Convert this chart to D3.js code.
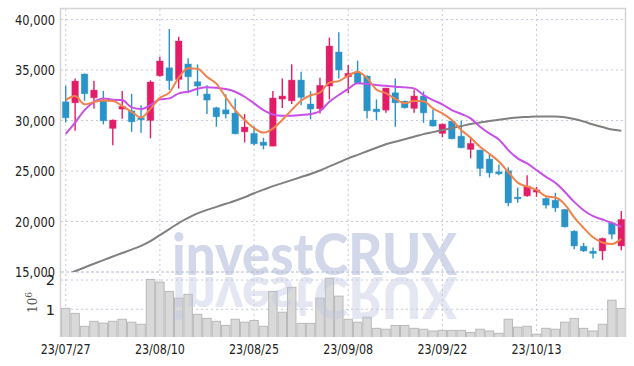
<!DOCTYPE html>
<html>
<head>
<meta charset="utf-8">
<script src="https://cdn.jsdelivr.net/npm/d3@7"></script>
<style>
body { margin: 0; background: #fff; }
text { font-family: "DejaVu Sans", "Liberation Sans", sans-serif; }
</style>
</head>
<body>
<div class="chartDIV"></div>
<script>
// daily candles, 23/07/27 - 23/10/26
var dates = ["23/07/27","23/07/28","23/07/31","23/08/01","23/08/02","23/08/03","23/08/04","23/08/07","23/08/08","23/08/09",
             "23/08/10","23/08/11","23/08/14","23/08/16","23/08/17","23/08/18","23/08/21","23/08/22","23/08/23","23/08/24",
             "23/08/25","23/08/28","23/08/29","23/08/30","23/08/31","23/09/01","23/09/04","23/09/05","23/09/06","23/09/07",
             "23/09/08","23/09/11","23/09/12","23/09/13","23/09/14","23/09/15","23/09/18","23/09/19","23/09/20","23/09/21",
             "23/09/22","23/09/25","23/09/26","23/09/27","23/10/04","23/10/05","23/10/06","23/10/10","23/10/11","23/10/12",
             "23/10/13","23/10/16","23/10/17","23/10/18","23/10/19","23/10/20","23/10/23","23/10/24","23/10/25","23/10/26"];

var open = [31850,31750,34600,32250,31920,29220,31130,30960,30270,30010,34430,35220,34070,35590,33840,32620,31260,31060,30730,28880,
            28720,27860,27460,32120,31950,34000,31630,31160,33410,36780,34330,34730,34400,31130,31030,32750,31920,31200,32420,30040,
            28720,29940,28450,27140,27070,26180,24920,25020,22410,22540,22910,22280,22110,21190,19040,17550,17060,17090,19860,17580];
var high = [33440,34170,34650,33940,32940,30100,32910,32650,31500,33980,36310,39060,38300,36160,35560,33480,31360,32590,32190,30640,
            29420,28290,32910,34170,35560,34830,32910,34230,38200,38730,35490,35920,34450,32090,33250,34170,31960,33080,32890,31100,
            29700,30000,29970,28330,27100,26670,25650,25360,23370,24590,23430,22400,22840,21250,19140,17880,17430,18400,19900,21050];
var low = [29810,28980,31950,31200,29620,27560,30170,28880,28780,28230,34330,33010,33180,32690,32450,30640,29380,30210,28650,27830,
           27560,27140,27440,31230,31630,31500,30110,30700,32090,34170,32700,33650,30210,30040,30760,29380,31200,30760,29770,29400,
           28330,28150,27250,26250,24490,24360,24590,21520,21850,22450,22440,21290,20950,19400,17260,16990,16340,16170,18250,17160];
var close = [30270,33900,32650,33010,29970,30040,31400,29870,30070,33810,35890,33940,37870,34330,33410,32020,30370,30640,28680,29350,
             27690,27530,32220,32420,34000,32290,31130,33480,37370,35000,34670,33680,30960,30860,33210,31750,31260,32420,30760,29450,
             29640,28190,27300,27730,25250,24820,24720,21850,22240,23500,23130,21620,21350,19470,17580,17090,16830,18320,18740,20200];
var volume = [1030000,860000,420000,590000,530000,590000,660000,560000,490000,2020000,1930000,1610000,1380000,1510000,830000,690000,590000,450000,660000,560000,
              620000,420000,1610000,900000,1750000,520000,520000,1380000,2060000,1450000,660000,560000,730000,350000,320000,450000,450000,350000,320000,260000,
              280000,280000,280000,210000,320000,260000,180000,660000,390000,420000,150000,350000,320000,560000,690000,350000,260000,490000,1310000,1030000];

// moving averages as drawn
var ma5 = [32020,32420,31600,31820,31980,31930,31450,30860,30300,31150,32240,32760,34250,35165,35120,34320,33650,32300,31030,30050,
           29250,28800,29200,30050,31050,31950,32500,32750,33750,33900,34450,34830,34200,33060,32710,32140,31700,31930,31910,31200,
           30700,30060,29060,28300,27400,26700,25940,24900,23850,23460,23130,22500,22375,21700,20400,19360,18440,17920,17770,18300];
var ma20 = [28680,29800,31030,31850,32190,32050,32020,31300,31130,31530,32090,32190,32690,32850,33140,33300,33240,33110,32850,32350,
            31700,31030,30600,30470,30470,30540,30640,30930,31850,32520,33130,33680,33610,33510,33440,33340,33280,33180,32520,32020,
            31600,31030,30640,30210,29380,28720,28130,27070,26250,25750,25090,24420,23830,22940,21940,21120,20530,20200,19860,19470];
var ma120 = [14700,15080,15450,15820,16180,16530,16880,17220,17580,18050,18650,19250,19850,20350,20800,21150,21450,21750,22050,22400,
             22800,23150,23500,23800,24100,24400,24700,25050,25450,25850,26250,26600,26950,27300,27650,27900,28150,28400,28650,28850,
             29050,29250,29450,29650,29800,29950,30080,30200,30300,30350,30400,30400,30400,30330,30150,29900,29600,29350,29100,28980];

var priceTicks = [15000, 20000, 25000, 30000, 35000, 40000],
    volTicks = [1000000, 2000000],
    dateTicks = ["23/07/27", "23/08/10", "23/08/25", "23/09/08", "23/09/22", "23/10/13"];

var width = 634,
    height = 366,
    left = 61,
    right = 626,
    plotTop = 9,
    split = 272,
    plotBottom = 337;

var svg = d3.select(".chartDIV").
    append("svg").
    attr("width", width).
    attr("height", height);

var x = d3.scaleBand().domain(dates).range([left, right]).padding(0),
    y = d3.scaleLinear().domain([15000, 40000]).range([272, 19.5]),
    yv = d3.scaleLinear().domain([0, 2000000]).range([338.6, 280]);

function cx(i) { return x(dates[i]) + x.bandwidth() / 2; }

var defs = svg.append("defs");
defs.append("clipPath").attr("id", "priceClip").
    append("rect").attr("x", left).attr("y", plotTop).attr("width", right - left).attr("height", split - plotTop);
defs.append("clipPath").attr("id", "volClip").
    append("rect").attr("x", left).attr("y", split).attr("width", right - left).attr("height", plotBottom - split);

// watermark
function watermark(sel) {
    sel.attr("x", 172).
        attr("y", 275).
        attr("textLength", 285).
        attr("lengthAdjust", "spacingAndGlyphs").
        style("font-family", "Lato, 'DejaVu Sans', sans-serif").
        style("font-size", "57px").
        style("font-weight", 900).
        text("investCRUX");
}
svg.append("text").call(watermark).style("fill", "#d2d7ea");

// gridlines
var grid = svg.append("g").attr("class", "grid");
grid.selectAll(".hgrid").
    data(priceTicks.slice(1)).
    enter().append("line").
    attr("x1", left).attr("x2", right).
    attr("y1", function(d) { return y(d); }).
    attr("y2", function(d) { return y(d); }).
    style("stroke", "#c6c9dc").
    style("stroke-dasharray", "2,3");
grid.selectAll(".vgrid").
    data(volTicks).
    enter().append("line").
    attr("x1", left).attr("x2", right).
    attr("y1", function(d) { return yv(d); }).
    attr("y2", function(d) { return yv(d); }).
    style("stroke", "#c6c9dc").
    style("stroke-dasharray", "2,3");
grid.selectAll(".xgrid").
    data(dateTicks).
    enter().append("line").
    attr("x1", function(d) { return x(d) + x.bandwidth() / 2; }).
    attr("x2", function(d) { return x(d) + x.bandwidth() / 2; }).
    attr("y1", plotTop).attr("y2", plotBottom).
    style("stroke", "#c6c9dc").
    style("stroke-dasharray", "2,3");

// volume bars
svg.append("g").
    attr("clip-path", "url(#volClip)").
    selectAll("rect").
    data(volume).
    enter().append("rect").
    attr("x", function(d, i) { return x(dates[i]) + 0.5; }).
    attr("width", x.bandwidth() - 1).
    attr("y", function(d) { return yv(d); }).
    attr("height", function(d) { return yv(0) - yv(d); }).
    style("fill", "#d9d9d9").
    style("stroke", "#b9b9b9").
    style("stroke-width", 1);

// watermark reflection
svg.append("text").call(watermark).
    attr("transform", "translate(0,552) scale(1,-1)").
    style("fill", "#c0c5de").
    style("opacity", 0.42);

// separator and frame
svg.append("line").
    attr("x1", left).attr("x2", right).
    attr("y1", split).attr("y2", split).
    style("stroke", "#b4b8ca").
    style("stroke-dasharray", "3,2");
svg.append("path").
    attr("d", "M" + (left - 0.5) + "," + plotBottom + "V" + (plotTop - 0.5) + "H" + (right - 0.5) + "V" + plotBottom).
    style("fill", "none").
    style("stroke", "#d4d4d4").
    style("stroke-width", 1.5);

// candles
var upColor = "#e31c68",
    downColor = "#2a93c8";
var candle = svg.append("g").
    attr("clip-path", "url(#priceClip)").
    selectAll(".candle").
    data(dates).
    enter().append("g").
    attr("class", "candle").
    style("fill", function(d, i) { return close[i] >= open[i] ? upColor : downColor; }).
    style("stroke", function(d, i) { return close[i] >= open[i] ? upColor : downColor; });

candle.append("line").
    attr("x1", function(d, i) { return cx(i); }).
    attr("x2", function(d, i) { return cx(i); }).
    attr("y1", function(d, i) { return y(high[i]); }).
    attr("y2", function(d, i) { return y(low[i]); }).
    style("stroke-width", 1.4);

candle.append("rect").
    attr("x", function(d, i) { return cx(i) - 3.3; }).
    attr("width", 6.6).
    attr("y", function(d, i) { return y(Math.max(open[i], close[i])); }).
    attr("height", function(d, i) { return Math.max(1.5, Math.abs(y(open[i]) - y(close[i]))); }).
    style("stroke-opacity", 0.35).
    style("stroke-width", 1);

// moving average lines
var line = d3.line().
    curve(d3.curveMonotoneX).
    x(function(d, i) { return cx(i); }).
    y(function(d) { return y(d); });

var maLines = svg.append("g").attr("clip-path", "url(#priceClip)");
[[ma120, "#808080"], [ma20, "#c850e8"], [ma5, "#f0834c"]].forEach(function(m) {
    maLines.append("path").
        attr("d", line(m[0])).
        style("fill", "none").
        style("stroke", m[1]).
        style("stroke-width", 2);
});

// axes labels
svg.append("g").
    selectAll("text").
    data(priceTicks).
    enter().append("text").
    attr("x", 55).
    attr("y", function(d) { return y(d); }).
    attr("dy", "0.36em").
    attr("text-anchor", "end").
    attr("textLength", 40).
    attr("lengthAdjust", "spacingAndGlyphs").
    style("font-size", "14.5px").
    style("fill", "#222").
    text(function(d) { return d3.format(",")(d); });

svg.append("g").
    selectAll("text").
    data(volTicks).
    enter().append("text").
    attr("x", 55).
    attr("y", function(d) { return yv(d); }).
    attr("dy", "0.36em").
    attr("text-anchor", "end").
    style("font-size", "14.5px").
    style("fill", "#222").
    text(function(d) { return d / 1000000; });

var unit = svg.append("text").
    attr("transform", "translate(37,313) rotate(-90)").
    style("font-family", "'DejaVu Serif', serif").
    style("font-size", "12px").
    style("fill", "#555");
unit.append("tspan").text("10");
unit.append("tspan").attr("dy", -5).style("font-size", "9px").text("6");

svg.append("g").
    selectAll("text").
    data(dateTicks).
    enter().append("text").
    attr("x", function(d) { return x(d) + x.bandwidth() / 2; }).
    attr("y", 354).
    attr("text-anchor", "middle").
    attr("textLength", 50).
    attr("lengthAdjust", "spacingAndGlyphs").
    style("font-size", "14.5px").
    style("fill", "#222").
    text(function(d) { return d; });
</script>
</body>
</html>
